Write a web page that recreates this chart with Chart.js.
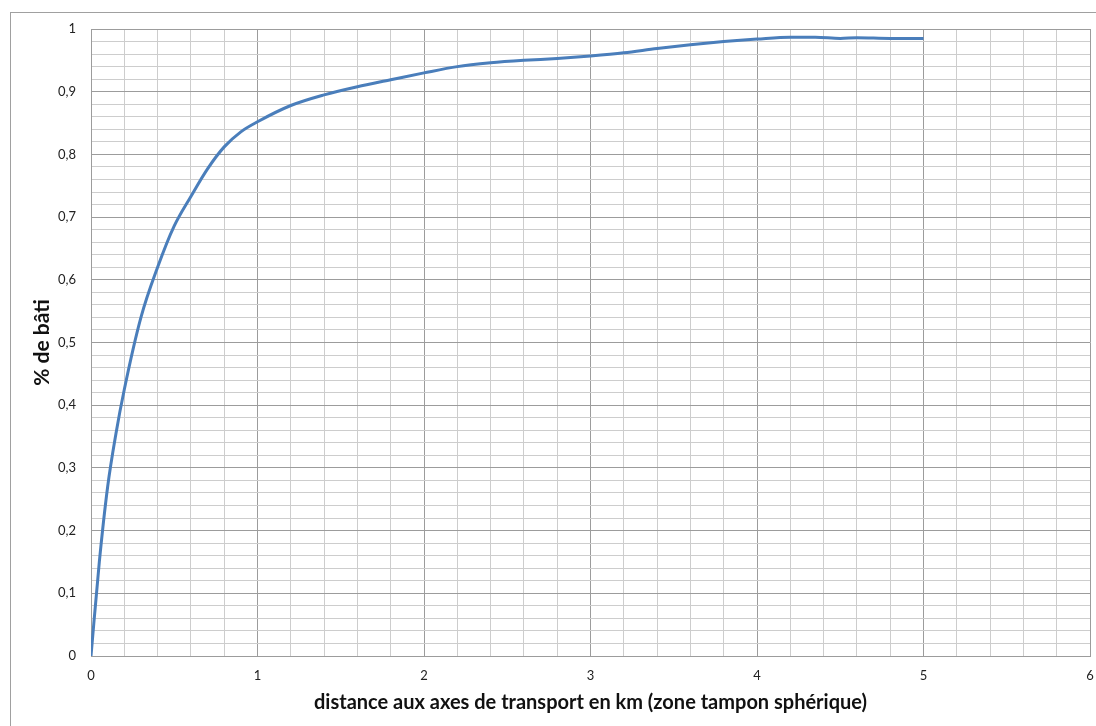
<!DOCTYPE html>
<html>
<head>
<meta charset="utf-8">
<script src="https://cdn.jsdelivr.net/npm/chart.js@4.4.1/dist/chart.umd.min.js"></script>
<style>
  html, body { margin: 0; padding: 0; background: #fff; }
  #wrap { position: relative; width: 1096px; height: 726px; overflow: hidden; }
  #frame {
    position: absolute; left: 10px; top: 12px; width: 1200px; height: 800px;
    border-left: 1px solid #a0a0a0; border-top: 1px solid #a0a0a0;
  }
  #myChart { position: absolute; left: 0; top: 0; }
</style>
</head>
<body>
<div id="wrap">
  <div id="frame"></div>
  <canvas id="myChart" width="1096" height="726"></canvas>
</div>
<script>
// distance (km) and share of built area
const distanceKm = [0, 0.05, 0.1, 0.15, 0.2, 0.3, 0.4, 0.5, 0.6, 0.7, 0.8, 0.9, 1.0,
  1.2, 1.4, 1.6, 1.8, 2.0, 2.2, 2.4, 2.6, 2.8, 3.0, 3.2, 3.4, 3.6, 3.8, 4.0,
  4.2, 4.35, 4.5, 4.6, 4.8, 5.0]
const pctBati = [0, 0.15, 0.27, 0.355, 0.425, 0.54, 0.62, 0.686, 0.733, 0.777, 0.812, 0.836, 0.852,
  0.878, 0.895, 0.908, 0.919, 0.93, 0.94, 0.946, 0.95, 0.953, 0.957, 0.962, 0.969, 0.975, 0.98, 0.984,
  0.987, 0.987, 0.985, 0.986, 0.985, 0.985]

const xTickLabels = ['0', '1', '2', '3', '4', '5', '6']
const yTickLabels = ['0', '0,1', '0,2', '0,3', '0,4', '0,5', '0,6', '0,7', '0,8', '0,9', '1']

const majorGrid = '#9c9c9c'
const minorGrid = '#cdcdcd'

function isMajor(v, step) {
  const r = v / step
  return Math.abs(r - Math.round(r)) < 1e-6
}

const el = document.getElementById('myChart')

const chartConfig = {
  type: 'line',
  data: {
    datasets: [
      {
        data: distanceKm.map((d, i) => ({ x: d, y: pctBati[i] })),
        borderColor: '#4a7ebb',
        borderWidth: 3,
        pointRadius: 0,
        fill: false,
        cubicInterpolationMode: 'monotone',
      },
    ],
  },
  options: {
    responsive: false,
    animation: false,
    layout: { padding: { left: 0, right: 6, top: 29, bottom: 0 } },
    plugins: {
      legend: { display: false },
      tooltip: { enabled: false },
    },
    scales: {
      x: {
        type: 'linear',
        min: 0,
        max: 6,
        afterFit: (s) => {
          s.height = 70
          s.paddingLeft = 0
          s.paddingRight = 0
        },
        ticks: {
          stepSize: 0.2,
          autoSkip: false,
          maxRotation: 0,
          padding: 12,
          color: '#222',
          font: { family: 'Lato', size: 13 },
          callback: (v) => (isMajor(v, 1) ? xTickLabels[Math.round(v)] : ''),
        },
        grid: {
          drawTicks: false,
          color: (c) => (isMajor(c.tick.value, 1) ? majorGrid : minorGrid),
        },
        border: { color: majorGrid },
        title: {
          display: true,
          text: 'distance aux axes de transport en km (zone tampon sphérique)',
          color: '#111',
          font: { family: 'Lato', size: 20, weight: 'bold' },
          padding: { top: 4, bottom: 11 },
        },
      },
      y: {
        min: 0,
        max: 1,
        afterFit: (s) => {
          s.width = 91
          s.paddingTop = 0
          s.paddingBottom = 0
        },
        ticks: {
          stepSize: 0.02,
          autoSkip: false,
          padding: 15,
          color: '#222',
          font: { family: 'Lato', size: 13 },
          callback: (v) => (isMajor(v, 0.1) ? yTickLabels[Math.round(v * 10)] : ''),
        },
        grid: {
          drawTicks: false,
          color: (c) => (isMajor(c.tick.value, 0.1) ? majorGrid : minorGrid),
        },
        border: { color: majorGrid },
        title: {
          display: true,
          text: '% de bâti',
          color: '#111',
          font: { family: 'Lato', size: 21, weight: 'bold' },
          padding: { top: 30, bottom: 4 },
        },
      },
    },
  },
}

const chart = new Chart(el.getContext('2d'), chartConfig)
</script>
</body>
</html>
